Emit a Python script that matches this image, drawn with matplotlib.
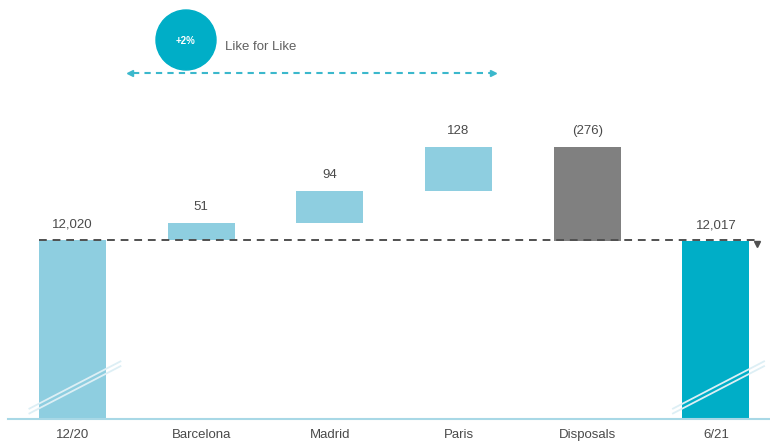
import matplotlib
matplotlib.use("Agg")
import matplotlib.pyplot as plt
from matplotlib.patches import Circle
import numpy as np

plt.rcParams['font.family'] = ['Liberation Sans', 'DejaVu Sans']

categories = ["12/20", "Barcelona", "Madrid", "Paris", "Disposals", "6/21"]
values = [12020, 51, 94, 128, -276, 12017]
value_labels = ["12,020", "51", "94", "128", "(276)", "12,017"]
kinds = ["total", "delta", "delta", "delta", "delta", "total"]

LIGHT = "#8ECEE0"
TEAL = "#00AEC7"
GRAY = "#808080"
TXT = "#4a4a4a"

YMIN, YMAX = 11500, 12720

fig = plt.figure(figsize=(7.7, 4.42), dpi=100)
ax = fig.add_axes([8/770, 23/442, 1 - 8/770, 1 - 23/442])
ax.set_xlim(-0.5, 5.42)
ax.set_ylim(YMIN, YMAX)

x = np.arange(len(categories))
bottoms, heights, colors = [], [], []
running = 0
for i, (v, k) in enumerate(zip(values, kinds)):
    if k == "total":
        bottoms.append(YMIN)
        heights.append(v - YMIN)
        running = v
        colors.append(LIGHT if i == 0 else TEAL)
    else:
        if v >= 0:
            bottoms.append(running)
            heights.append(v)
        else:
            bottoms.append(running + v)
            heights.append(-v)
        running += v
        colors.append(LIGHT if v >= 0 else GRAY)

ax.bar(x, heights, bottom=bottoms, width=0.52, color=colors, zorder=2)

for xi, b, h, lab in zip(x, bottoms, heights, value_labels):
    ax.annotate(lab, (xi, b + h), xytext=(0, 7), textcoords="offset points",
                ha="center", va="bottom", fontsize=9.5, color=TXT)

# dashed reference line at start level
ax.plot([-0.26, 5.32], [values[0], values[0]], ls=(0, (4, 3)), color="#505050",
        lw=1.4, zorder=3)
ax.plot([5.32], [values[0] - 10], marker="v", color="#505050", ms=5, zorder=3)

# axis break marks on total bars
for xi in (0, 5):
    for off in (0, 14):
        ax.plot([xi - 0.34, xi + 0.38], [11515 + off, 11655 + off], color="#DDEFF5",
                lw=1.3, zorder=4, solid_capstyle="butt")

for s in ["top", "right", "left"]:
    ax.spines[s].set_visible(False)
ax.spines["bottom"].set_color("#A8D8E6")
ax.spines["bottom"].set_linewidth(1.5)
ax.set_yticks([])
ax.set_xticks(x)
ax.set_xticklabels(categories, fontsize=9.5, color=TXT)
ax.tick_params(axis="x", length=0, pad=7)

# overlay for annotation (pixel coordinates)
ov = fig.add_axes([0, 0, 1, 1], facecolor="none")
ov.set_xlim(0, 770)
ov.set_ylim(442, 0)
ov.axis("off")
ov.add_patch(Circle((186, 40), 30, color=TEAL, zorder=5))
ov.text(186, 41, "+2%", color="white", fontsize=7, fontweight="bold",
        ha="center", va="center", zorder=6)
ov.text(225, 47, "Like for Like", color="#606060", fontsize=9.5, ha="left", va="center")
ov.plot([133, 490], [73, 73], ls=(0, (3, 2.5)), color="#3BB8CC", lw=1.5)
ov.plot([130], [73], marker="<", color="#3BB8CC", ms=5)
ov.plot([493], [73], marker=">", color="#3BB8CC", ms=5)

fig.savefig("out.png", dpi=100)
